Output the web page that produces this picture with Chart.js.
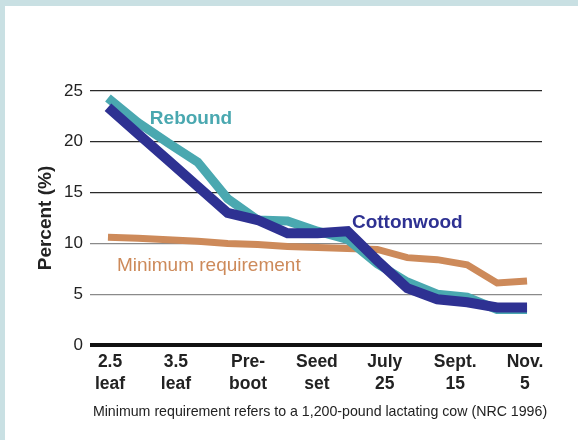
<!DOCTYPE html>
<html>
<head>
<meta charset="utf-8">
<script src="https://cdn.jsdelivr.net/npm/chart.js@4.4.1/dist/chart.umd.min.js"></script>
<style>
  html, body { margin: 0; padding: 0; background: #fff; }
  #wrap { width: 573px; height: 434px; border-top: 6px solid #c9e0e3; border-left: 5px solid #c9e0e3; position: relative; }
  canvas { display: block; }
</style>
</head>
<body>
<div id="wrap"><canvas id="c" width="573" height="434"></canvas></div>
<script>
// stage labels and where they sit along the sampling axis (sample index units)
const stageLabels = [['2.5','leaf'],['3.5','leaf'],['Pre-','boot'],['Seed','set'],['July','25'],['Sept.','15'],['Nov.','5']];
const stagePos    = [0.07, 2.27, 4.68, 6.98, 9.25, 11.6, 13.93];

// crude protein (%), one value per sampling point
const rebound    = [24.3, 21.9, 19.9, 18.0, 14.4, 12.3, 12.2, 11.2, 10.4, 8.0, 6.2, 5.0, 4.7, 3.5, 3.5];
const cottonwood = [23.4, 20.8, 18.2, 15.6, 13.0, 12.3, 11.0, 11.0, 11.2, 8.3, 5.6, 4.5, 4.2, 3.7, 3.7];
const minimum    = [10.6, 10.5, 10.35, 10.2, 10.0, 9.9, 9.7, 9.6, 9.5, 9.4, 8.6, 8.4, 7.9, 6.1, 6.3];

const yTicks = [0, 5, 10, 15, 20, 25];
const footnote = 'Minimum requirement refers to a 1,200-pound lactating cow (NRC 1996)';

// in-plot series names: [text, x index, y value, colour, weight]
const seriesNotes = [
  ['Rebound', 1.40, 21.75, '#4aa8b0', 'bold'],
  ['Cottonwood', 8.15, 11.5, '#2e3192', 'bold'],
  ['Minimum requirement', 0.30, 7.3, '#cd8a5a', 'normal']
];

const FONT = '"Liberation Sans", Arial, Helvetica, sans-serif';
const pts = arr => arr.map((v, i) => ({ x: i, y: v }));

const notesPlugin = {
  id: 'notes',
  afterDatasetsDraw(chart) {
    const { ctx, scales: { x, y }, chartArea } = chart;
    ctx.save();
    ctx.textBaseline = 'alphabetic';
    seriesNotes.forEach(([t, px, py, col, w]) => {
      ctx.font = `${w} 19px ${FONT}`;
      ctx.fillStyle = col;
      ctx.textAlign = 'left';
      ctx.fillText(t, x.getPixelForValue(px), y.getPixelForValue(py));
    });
    ctx.font = `14.2px ${FONT}`;
    ctx.fillStyle = '#222';
    ctx.textAlign = 'center';
    ctx.fillText(footnote, (chartArea.left + chartArea.right) / 2 + 4, chartArea.bottom + 71);
    ctx.restore();
  }
};

const line = (data, color, width) => ({
  data: pts(data), borderColor: color, borderWidth: width,
  pointRadius: 0, tension: 0, borderJoinStyle: 'miter', borderCapStyle: 'butt', fill: false
});

new Chart(document.getElementById('c'), {
  type: 'line',
  data: {
    datasets: [
      line(cottonwood, '#2e3192', 10),
      line(rebound, '#4aa8b0', 9),
      line(minimum, '#cd8a5a', 7)
    ]
  },
  options: {
    responsive: false,
    animation: false,
    layout: { padding: { top: 85, right: 36, bottom: 45, left: 29 } },
    plugins: { legend: { display: false }, tooltip: { enabled: false } },
    scales: {
      x: {
        type: 'linear', min: -0.6, max: 14.5,
        afterBuildTicks: axis => { axis.ticks = stagePos.map(v => ({ value: v })); },
        afterFit: s => { s.height = 50; },
        grid: { display: false, drawTicks: false },
        border: { display: false },
        ticks: {
          autoSkip: false, maxRotation: 0, padding: 6, color: '#222',
          font: { family: FONT, size: 17.5, weight: 'bold', lineHeight: 1.27 },
          callback: (v, i) => stageLabels[i]
        }
      },
      y: {
        min: 0, max: 25,
        afterBuildTicks: axis => { axis.ticks = yTicks.map(v => ({ value: v })); },
        afterFit: s => { s.width = 56; },
        title: {
          display: true, text: 'Percent (%)', color: '#222', padding: { top: 0, bottom: 0 },
          font: { family: FONT, size: 19, weight: 'bold' }
        },
        grid: {
          drawTicks: false,
          color: c => c.tick.value === 0 ? '#111' : (c.tick.value >= 15 ? '#2a2a2a' : '#8a8a8a'),
          lineWidth: c => c.tick.value === 0 ? 4 : 1.2
        },
        border: { display: false },
        ticks: { padding: 7, color: '#222', font: { family: FONT, size: 17 } }
      }
    }
  },
  plugins: [notesPlugin]
});
</script>
</body>
</html>
